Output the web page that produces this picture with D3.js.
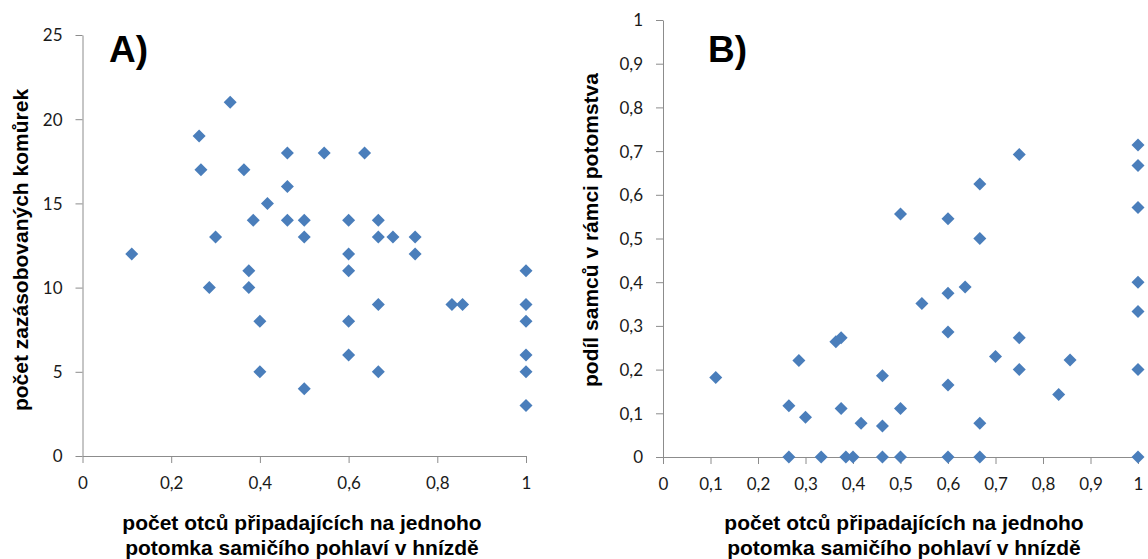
<!DOCTYPE html>
<html>
<head>
<meta charset="utf-8">
<script src="https://cdn.jsdelivr.net/npm/d3@7"></script>
<style>
  html, body { margin: 0; padding: 0; background: #fff; }
  svg { display: block; }
</style>
</head>
<body>
<div id="chart"></div>
<script>
// Panel A: fathers per female offspring vs. provisioned cells
const aX = [0.111, 0.263, 0.267, 0.333, 0.3, 0.364, 0.385, 0.417, 0.375, 0.462,
  0.462, 0.462, 0.5, 0.5, 0.545, 0.636, 0.6, 0.6, 0.6, 0.667,
  0.667, 0.7, 0.75, 0.75, 1, 0.286, 0.375, 0.667, 0.833, 0.857,
  1, 0.4, 0.6, 1, 0.6, 1, 0.4, 0.667, 1, 0.5, 1];
const aY = [12, 19, 17, 21, 13, 17, 14, 15, 11, 18,
  16, 14, 14, 13, 18, 18, 14, 12, 11, 14,
  13, 13, 13, 12, 11, 10, 10, 9, 9, 9,
  9, 8, 8, 8, 6, 6, 5, 5, 5, 4, 3];

// Panel B: fathers per female offspring vs. share of males
const bX = [0.111, 0.265, 0.265, 0.286, 0.3, 0.333, 0.364, 0.375, 0.375, 0.385,
  0.4, 0.417, 0.462, 0.462, 0.462, 0.5, 0.5, 0.5, 0.545, 0.6,
  0.6, 0.6, 0.6, 0.6, 0.636, 0.667, 0.667, 0.667, 0.667, 0.7,
  0.75, 0.75, 0.75, 0.833, 0.857, 1, 1, 1, 1, 1, 1, 1];
const bY = [0.182, 0.117, 0, 0.221, 0.091, 0, 0.264, 0.273, 0.111, 0,
  0, 0.077, 0.071, 0.186, 0, 0.111, 0, 0.556, 0.351, 0.545,
  0.375, 0.286, 0.165, 0, 0.389, 0.625, 0.5, 0.077, 0, 0.23,
  0.692, 0.273, 0.2, 0.143, 0.222, 0.714, 0.667, 0.571, 0.4, 0.333, 0.2, 0];

const aXTicks = [0, 0.2, 0.4, 0.6, 0.8, 1];
const aYTicks = [0, 5, 10, 15, 20, 25];
const bXTicks = [0, 0.1, 0.2, 0.3, 0.4, 0.5, 0.6, 0.7, 0.8, 0.9, 1];
const bYTicks = [0, 0.1, 0.2, 0.3, 0.4, 0.5, 0.6, 0.7, 0.8, 0.9, 1];

const xTitle = ['počet otců připadajících na jednoho', 'potomka samičího pohlaví v hnízdě'];

const W = 1148, H = 559;
const czech = d3.formatLocale({ decimal: ',', thousands: ' ', grouping: [3], currency: ['', ' Kč'] });
const fmt = czech.format('~g');

const axisColor = '#8c8c8c';
const markColor = '#4a7ebb';
const tickFont = 'Lato, "Open Sans", sans-serif';
const boldFont = '"Liberation Sans", Arial, sans-serif';

const svg = d3.select('#chart').append('svg')
  .attr('width', W).attr('height', H);

function diamond(cx, cy, r) {
  return `M${cx},${cy - r}L${cx + r},${cy}L${cx},${cy + r}L${cx - r},${cy}Z`;
}

function panel(o) {
  const x = d3.scaleLinear().domain([0, 1]).range([o.x0, o.x1]);
  const y = d3.scaleLinear().domain(o.yDomain).range([o.y0, o.y1]);
  const g = svg.append('g');

  // y axis
  g.append('g')
    .attr('transform', `translate(${o.x0},0)`)
    .call(d3.axisLeft(y).tickValues(o.yTicks).tickSize(7).tickSizeOuter(0).tickPadding(13).tickFormat(fmt))
    .call((s) => s.selectAll('path,line').attr('stroke', axisColor))
    .call((s) => s.selectAll('text').attr('fill', '#1a1a1a').attr('font-family', tickFont).attr('font-size', 17)
      .attr('dy', '0.35em'));

  // x axis
  g.append('g')
    .attr('transform', `translate(0,${o.y0})`)
    .call(d3.axisBottom(x).tickValues(o.xTicks).tickSize(7).tickSizeOuter(0).tickPadding(14).tickFormat(fmt))
    .call((s) => s.selectAll('path,line').attr('stroke', axisColor))
    .call((s) => s.selectAll('text').attr('fill', '#1a1a1a').attr('font-family', tickFont).attr('font-size', 17));

  // markers
  g.append('g')
    .selectAll('path')
    .data(o.xs.map((v, i) => [v, o.ys[i]]))
    .join('path')
    .attr('d', (d) => diamond(x(d[0]), y(d[1]), 6.5))
    .attr('fill', markColor);

  // panel letter
  g.append('text')
    .attr('x', o.letterX).attr('y', 62)
    .attr('font-family', boldFont).attr('font-weight', 700).attr('font-size', 37)
    .attr('fill', '#000')
    .text(o.letter);

  // y title
  g.append('text')
    .attr('transform', `translate(${o.yTitleX},${o.yTitleY}) rotate(-90)`)
    .attr('text-anchor', 'middle')
    .attr('font-family', boldFont).attr('font-weight', 700).attr('font-size', 21)
    .attr('fill', '#000')
    .text(o.yTitle);

  // x title
  g.append('text')
    .attr('text-anchor', 'middle')
    .attr('font-family', boldFont).attr('font-weight', 700).attr('font-size', 21)
    .attr('fill', '#000')
    .selectAll('tspan')
    .data(xTitle)
    .join('tspan')
    .attr('x', o.xTitleX)
    .attr('y', (d, i) => 530 + i * 25)
    .text((d) => d);
}

panel({
  x0: 82.5, x1: 526, y0: 456, y1: 35, yDomain: [0, 25],
  xTicks: aXTicks, yTicks: aYTicks, xs: aX, ys: aY,
  letter: 'A)', letterX: 109,
  yTitle: 'počet zazásobovaných komůrek', yTitleX: 28, yTitleY: 250,
  xTitleX: 302
});

panel({
  x0: 663, x1: 1138, y0: 457, y1: 20, yDomain: [0, 1],
  xTicks: bXTicks, yTicks: bYTicks, xs: bX, ys: bY,
  letter: 'B)', letterX: 708,
  yTitle: 'podíl samců v rámci potomstva', yTitleX: 598, yTitleY: 230,
  xTitleX: 904
});
</script>
</body>
</html>
